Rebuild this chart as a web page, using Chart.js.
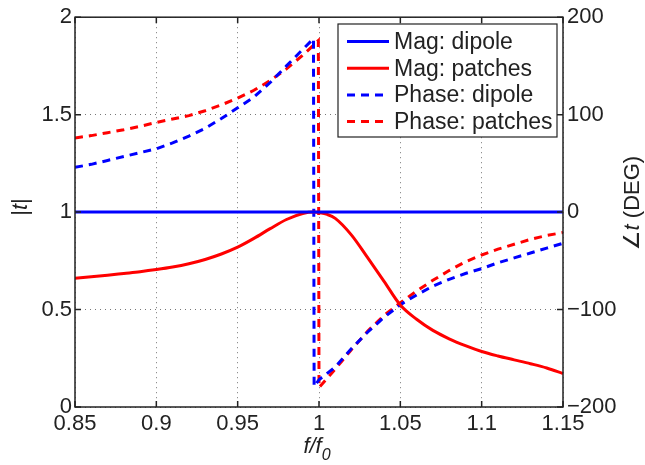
<!DOCTYPE html>
<html>
<head>
<meta charset="utf-8">
<script src="https://cdn.jsdelivr.net/npm/chart.js@4.4.1/dist/chart.umd.min.js"></script>
<style>
  html, body { margin: 0; padding: 0; background: #fff; }
  #wrap { width: 645px; height: 465px; }
</style>
</head>
<body>
<div id="wrap"><canvas id="c" width="645" height="465"></canvas></div>
<script>
// values
const xTicks = [0.85, 0.9, 0.95, 1, 1.05, 1.1, 1.15]
const magTicks = [0, 0.5, 1, 1.5, 2]
const phaseTicks = [-200, -100, 0, 100, 200]

const freqMagDipole = [0.85, 1.15]
const magDipole = [1, 1]

const freqMagPatches = [0.85, 0.86, 0.87, 0.88, 0.89, 0.9, 0.91, 0.92, 0.93, 0.94, 0.95, 0.96, 0.97, 0.98, 0.99, 0.997, 1.0, 1.005, 1.01, 1.02, 1.03, 1.04, 1.05, 1.06, 1.07, 1.08, 1.09, 1.1, 1.11, 1.12, 1.13, 1.14, 1.15]
const magPatches = [0.66, 0.668, 0.676, 0.685, 0.694, 0.705, 0.718, 0.735, 0.757, 0.785, 0.82, 0.865, 0.915, 0.962, 0.993, 1.0, 0.997, 0.988, 0.968, 0.882, 0.765, 0.645, 0.523, 0.45, 0.393, 0.35, 0.315, 0.285, 0.262, 0.242, 0.222, 0.2, 0.172]

const freqPhaseDipole = [0.85, 0.86, 0.87, 0.88, 0.89, 0.9, 0.91, 0.92, 0.93, 0.94, 0.95, 0.96, 0.97, 0.98, 0.99, 0.9966, 0.997, 1.0, 1.01, 1.02, 1.03, 1.04, 1.05, 1.06, 1.07, 1.08, 1.09, 1.1, 1.11, 1.12, 1.13, 1.14, 1.15]
const phaseDipole = [46, 49, 53, 57, 61, 65, 71, 78, 86, 96, 107, 118, 133, 150, 167, 178, -179, -172, -159, -140, -123, -108, -95, -85, -76, -69, -63, -58, -52, -47, -42, -37, -32]

const freqPhasePatches = [0.85, 0.86, 0.87, 0.88, 0.89, 0.9, 0.91, 0.92, 0.93, 0.94, 0.95, 0.96, 0.97, 0.98, 0.99, 0.9996, 1.0, 1.01, 1.02, 1.03, 1.04, 1.05, 1.06, 1.07, 1.08, 1.09, 1.1, 1.11, 1.12, 1.13, 1.14, 1.15]
const phasePatches = [76, 78.5, 81.5, 84.5, 88, 92, 95.5, 99, 104, 110, 117, 125, 135, 147, 161, 176, -180, -161, -141, -122, -106, -93, -81, -70, -60, -51, -44, -38, -33, -28, -24, -21]

const FONT = "'Liberation Sans', Arial, Helvetica, sans-serif"

function pts(xs, ys) {
  return xs.map((x, i) => ({ x: x, y: ys[i] }))
}

function fmt(v) {
  return String(Number(v.toFixed(2)))
}

// draws text made of runs with different fonts, centred on (0,0) of current transform
function drawRuns(ctx, runs) {
  let total = 0
  runs.forEach(r => { ctx.font = r.font; total += ctx.measureText(r.text).width })
  let x = -total / 2
  runs.forEach(r => {
    ctx.font = r.font
    ctx.fillText(r.text, x, r.dy || 0)
    x += ctx.measureText(r.text).width
  })
}

const framePlugin = {
  id: "frame",
  beforeDraw(chart) {
    const ctx = chart.ctx
    ctx.save()
    ctx.fillStyle = "#fff"
    ctx.fillRect(0, 0, chart.width, chart.height)
    ctx.restore()
  },
  afterDatasetsDraw(chart) {
    const { ctx, chartArea: a, scales } = chart
    const tl = 6
    ctx.save()
    ctx.strokeStyle = "#222"
    ctx.lineWidth = 1.5
    ctx.beginPath()
    xTicks.forEach(v => {
      const px = scales.x.getPixelForValue(v)
      ctx.moveTo(px, a.bottom); ctx.lineTo(px, a.bottom - tl)
      ctx.moveTo(px, a.top); ctx.lineTo(px, a.top + tl)
    })
    magTicks.forEach(v => {
      const py = scales.y.getPixelForValue(v)
      ctx.moveTo(a.left, py); ctx.lineTo(a.left + tl, py)
    })
    phaseTicks.forEach(v => {
      const py = scales.y1.getPixelForValue(v)
      ctx.moveTo(a.right, py); ctx.lineTo(a.right - tl, py)
    })
    ctx.stroke()
    ctx.strokeRect(a.left, a.top, a.right - a.left, a.bottom - a.top)

    // axis titles
    ctx.fillStyle = "#222"
    ctx.textBaseline = "middle"
    ctx.textAlign = "left"
    ctx.save()
    ctx.translate(21, 207)
    ctx.rotate(-Math.PI / 2)
    drawRuns(ctx, [
      { text: "|", font: "22px " + FONT },
      { text: "t", font: "italic 22px " + FONT },
      { text: "|", font: "22px " + FONT }
    ])
    ctx.restore()

    ctx.save()
    ctx.translate(633, 203)
    ctx.rotate(-Math.PI / 2)
    drawRuns(ctx, [
      { text: "\u2220", font: "22px 'DejaVu Sans', " + FONT },
      { text: "t", font: "italic 22px " + FONT },
      { text: " (DEG)", font: "22px " + FONT }
    ])
    ctx.restore()

    ctx.save()
    ctx.translate(317, 447)
    drawRuns(ctx, [
      { text: "f/f", font: "italic 22px " + FONT },
      { text: "0", font: "italic 16px " + FONT, dy: 9 }
    ])
    ctx.restore()

    // legend box
    const box = { x: 338, y: 24, w: 219, h: 113 }
    ctx.fillStyle = "#fff"
    ctx.fillRect(box.x, box.y, box.w, box.h)
    ctx.lineWidth = 1.2
    ctx.strokeStyle = "#222"
    ctx.strokeRect(box.x, box.y, box.w, box.h)
    chart.data.datasets.forEach((ds, i) => {
      const cy = box.y + 17.5 + i * 26.7
      ctx.beginPath()
      ctx.strokeStyle = ds.borderColor
      ctx.lineWidth = ds.borderWidth
      ctx.setLineDash(ds.borderDash || [])
      ctx.moveTo(347, cy)
      ctx.lineTo(389, cy)
      ctx.stroke()
      ctx.setLineDash([])
      ctx.fillStyle = "#222"
      ctx.font = "23px " + FONT
      ctx.textAlign = "left"
      ctx.fillText(ds.label, 394, cy + 1)
    })
    ctx.restore()
  }
}

const lineCommon = {
  pointRadius: 0,
  borderWidth: 3,
  fill: false,
  tension: 0
}

new Chart(document.getElementById("c"), {
  type: "line",
  data: {
    datasets: [
      { ...lineCommon, label: "Mag: dipole", data: pts(freqMagDipole, magDipole), borderColor: "#0000ff", yAxisID: "y" },
      { ...lineCommon, label: "Mag: patches", data: pts(freqMagPatches, magPatches), borderColor: "#ff0000", yAxisID: "y", cubicInterpolationMode: "monotone" },
      { ...lineCommon, label: "Phase: dipole", data: pts(freqPhaseDipole, phaseDipole), borderColor: "#0000ff", borderDash: [8, 6], yAxisID: "y1" },
      { ...lineCommon, label: "Phase: patches", data: pts(freqPhasePatches, phasePatches), borderColor: "#ff0000", borderDash: [8, 6], yAxisID: "y1" }
    ]
  },
  options: {
    responsive: false,
    animation: false,
    devicePixelRatio: 1,
    layout: { autoPadding: false, padding: { top: 17, left: 0, right: 0, bottom: 0 } },
    plugins: { legend: { display: false }, tooltip: { enabled: false } },
    scales: {
      x: {
        type: "linear",
        min: 0.85,
        max: 1.15,
        afterBuildTicks: axis => { axis.ticks = xTicks.map(v => ({ value: v })) },
        afterFit: axis => { axis.height = 58 },
        grid: { color: "#777", lineWidth: 1, drawTicks: false },
        border: { display: false, dash: [1, 4] },
        ticks: {
          padding: 4,
          color: "#222",
          font: { family: FONT, size: 22 },
          maxRotation: 0,
          autoSkip: false,
          callback: v => fmt(v)
        }
      },
      y: {
        position: "left",
        min: 0,
        max: 2,
        afterBuildTicks: axis => { axis.ticks = magTicks.map(v => ({ value: v })) },
        afterFit: axis => { axis.width = 75 },
        grid: { color: "#777", lineWidth: 1, drawTicks: false },
        border: { display: false, dash: [1, 4] },
        ticks: {
          padding: 3,
          color: "#222",
          font: { family: FONT, size: 22 },
          callback: v => fmt(v)
        }
      },
      y1: {
        position: "right",
        min: -200,
        max: 200,
        afterBuildTicks: axis => { axis.ticks = phaseTicks.map(v => ({ value: v })) },
        afterFit: axis => { axis.width = 82 },
        grid: { display: false, drawTicks: false },
        border: { display: false },
        ticks: {
          padding: 4,
          color: "#222",
          font: { family: FONT, size: 22 },
          callback: v => (v < 0 ? "\u2212" + Math.abs(v) : String(v))
        }
      }
    }
  },
  plugins: [framePlugin]
})
</script>
</body>
</html>
